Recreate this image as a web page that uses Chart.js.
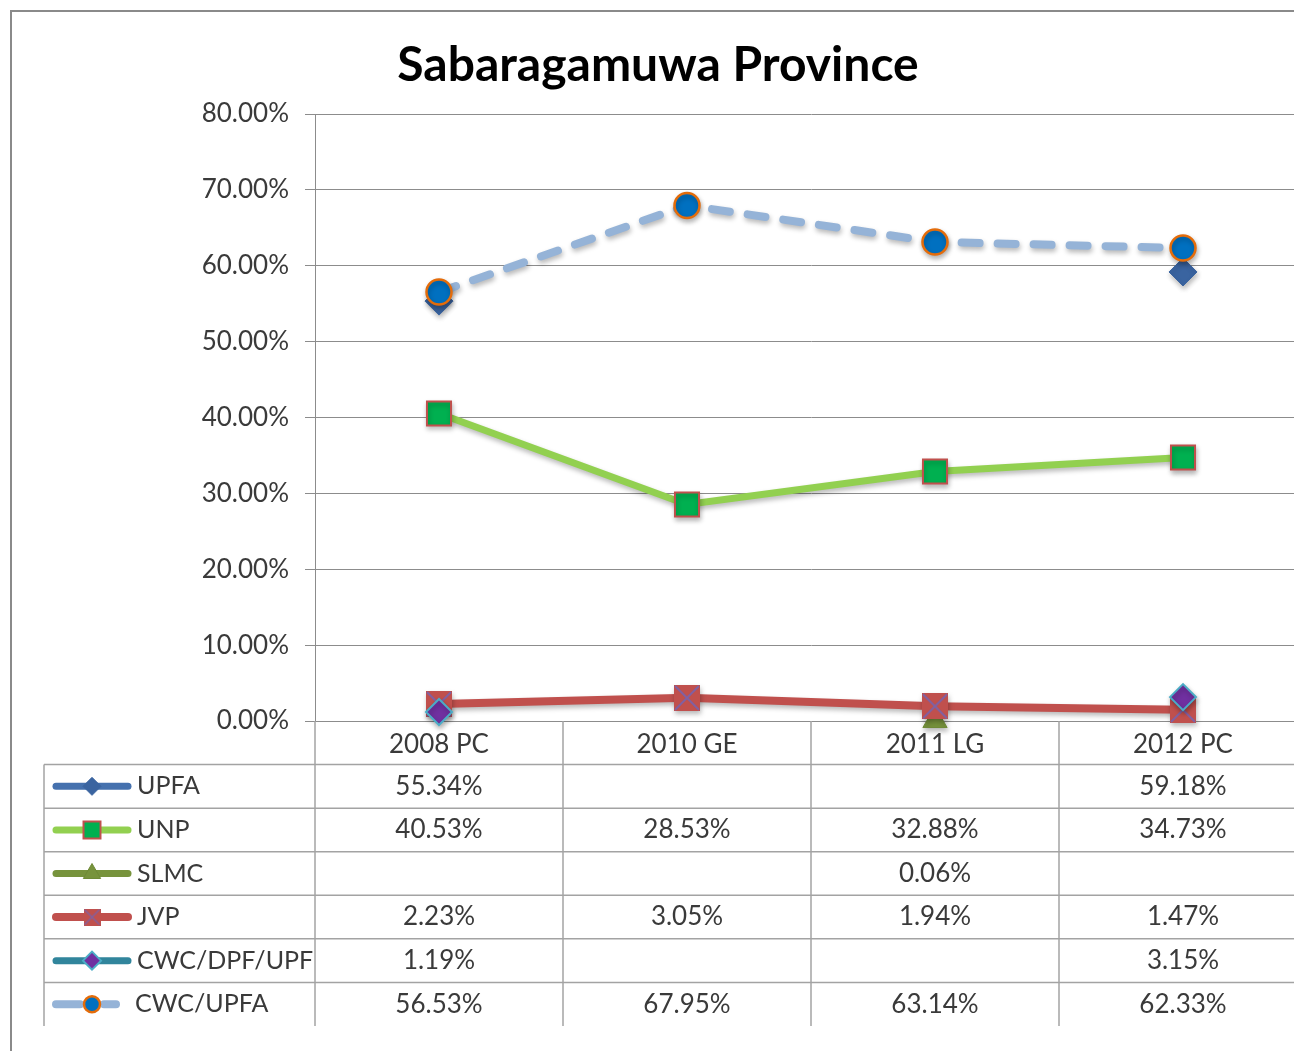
<!DOCTYPE html>
<html><head><meta charset="utf-8">
<script src="https://cdn.jsdelivr.net/npm/chart.js@4"></script>
<style>
html,body{margin:0;padding:0;background:#fff;overflow:hidden;width:1294px;height:1051px}
#wrap{position:absolute;left:0;top:0;width:1330px;height:1051px}
</style></head>
<body><div id="wrap"><canvas id="c" width="1330" height="1051"></canvas></div>
<script>
// ---- data ----
const titleText = 'Sabaragamuwa Province';
const categories = ['2008 PC', '2010 GE', '2011 LG', '2012 PC'];
const seriesNames = ['UPFA', 'UNP', 'SLMC', 'JVP', 'CWC/DPF/UPF', 'CWC/UPFA'];
const upfa      = [55.34, null, null, 59.18];
const unp       = [40.53, 28.53, 32.88, 34.73];
const slmc      = [null, null, 0.06, null];
const jvp       = [2.23, 3.05, 1.94, 1.47];
const cwcDpfUpf = [1.19, null, null, 3.15];
const cwcUpfa   = [56.53, 67.95, 63.14, 62.33];
const yMin = 0, yMax = 80, yStep = 10;

const FONT = 'Lato';
const TXT = '#3a3a3a';

function jvpMarker(s) {
  const c = document.createElement('canvas');
  c.width = s; c.height = s;
  const g = c.getContext('2d');
  g.fillStyle = '#C0504D';
  g.fillRect(0, 0, s, s);
  g.strokeStyle = '#7E62A6';
  g.lineWidth = Math.max(1.4, s / 14);
  g.beginPath();
  g.moveTo(1, 1); g.lineTo(s - 1, s - 1);
  g.moveTo(s - 1, 1); g.lineTo(1, s - 1);
  g.stroke();
  return c;
}
const jvpBig = jvpMarker(26);
const jvpSmall = jvpMarker(17);

const datasets = [
  { label: seriesNames[0], data: upfa, order: 6,
    borderColor: '#4571AE', borderWidth: 7,
    pointStyle: 'rectRot', pointRadius: 14, pointBackgroundColor: '#3A64A0', pointBorderColor: '#3A64A0', pointBorderWidth: 1,
    keyRadius: 9 },
  { label: seriesNames[1], data: unp, order: 5,
    borderColor: '#92D050', borderWidth: 7,
    pointStyle: 'rect', pointRadius: 17, pointBackgroundColor: '#00B050', pointBorderColor: '#C0504D', pointBorderWidth: 2,
    keyRadius: 12 },
  { label: seriesNames[2], data: slmc, order: 4,
    borderColor: '#77933C', borderWidth: 7,
    pointStyle: 'triangle', pointRadius: 14, pointBackgroundColor: '#77933C', pointBorderColor: '#6E8A36', pointBorderWidth: 1,
    keyRadius: 10 },
  { label: seriesNames[3], data: jvp, order: 3,
    borderColor: '#C0504D', borderWidth: 8,
    pointStyle: jvpBig, pointRadius: 13, keyStyle: jvpSmall,
    keyRadius: 9 },
  { label: seriesNames[4], data: cwcDpfUpf, order: 2,
    borderColor: '#31859C', borderWidth: 7,
    pointStyle: 'rectRot', pointRadius: 13, pointBackgroundColor: '#7030A0', pointBorderColor: '#4BACC6', pointBorderWidth: 2,
    keyRadius: 9 },
  { label: seriesNames[5], data: cwcUpfa, order: 1,
    borderColor: '#95B3D7', borderWidth: 8, borderDash: [18, 18], borderCapStyle: 'round',
    pointStyle: 'circle', pointRadius: 12.5, pointBackgroundColor: '#0070C0', pointBorderColor: '#E46C0A', pointBorderWidth: 2.5,
    keyRadius: 8, dashedKey: true },
];
datasets.forEach(d => { d.tension = 0; d.spanGaps = false; d.fill = false; d.clip = false; d.pointHoverRadius = d.pointRadius; });

const TABLE_LEFT = 44, TABLE_H = 305, KEY_X0 = 52, KEY_X1 = 132, KEY_MID = 92, LABEL_X = 137;

const shadowPlugin = {
  id: 'markerShadow',
  beforeDatasetsDraw(chart) {
    const ctx = chart.ctx;
    ctx.save();
    ctx.shadowColor = 'rgba(0,0,0,0.28)';
    ctx.shadowBlur = 5;
    ctx.shadowOffsetX = 1;
    ctx.shadowOffsetY = 3;
  },
  afterDatasetsDraw(chart) { chart.ctx.restore(); }
};

const tablePlugin = {
  id: 'dataTable',
  beforeDraw(chart) {
    const ctx = chart.ctx;
    ctx.save();
    ctx.fillStyle = '#fff';
    ctx.fillRect(0, 0, chart.width, chart.height);
    ctx.strokeStyle = '#8a8a8a';
    ctx.lineWidth = 2;
    ctx.strokeRect(11, 11, chart.width + 40, chart.height + 40);
    ctx.restore();
  },
  afterDraw(chart) {
    const ctx = chart.ctx, a = chart.chartArea, x = chart.scales.x;
    const bottom = a.bottom + TABLE_H;
    const rowH = TABLE_H / (chart.data.datasets.length + 1);
    const step = x.getPixelForValue(1) - x.getPixelForValue(0);
    const ln = (x0, y0, x1, y1) => { ctx.beginPath(); ctx.moveTo(x0, y0); ctx.lineTo(x1, y1); ctx.stroke(); };
    ctx.save();
    ctx.strokeStyle = '#a3a3a3';
    ctx.lineWidth = 1.5;
    for (let r = 1; r <= chart.data.datasets.length; r++) {
      const y = a.bottom + r * rowH;
      ln(TABLE_LEFT, y, chart.width, y);
    }
    for (let i = 0; i <= categories.length; i++) {
      const px = x.getPixelForValue(i) - step / 2;
      ln(px, a.bottom, px, bottom);
    }
    ln(TABLE_LEFT, a.bottom + rowH, TABLE_LEFT, bottom);

    ctx.textBaseline = 'middle';
    chart.data.datasets.forEach((ds, r) => {
      const cy = a.bottom + (r + 1.5) * rowH;
      ctx.save();
      ctx.strokeStyle = ds.borderColor;
      ctx.lineWidth = ds.borderWidth;
      ctx.lineCap = 'round';
      if (ds.dashedKey) {
        ln(KEY_X0 + 4, cy, KEY_MID - 12, cy);
        ln(KEY_MID + 12, cy, KEY_MID + 24, cy);
      } else {
        ln(KEY_X0 + 4, cy, KEY_X1 - 4, cy);
      }
      ctx.restore();
      ctx.save();
      ctx.fillStyle = ds.pointBackgroundColor || ds.borderColor;
      ctx.strokeStyle = ds.pointBorderColor || ds.borderColor;
      ctx.lineWidth = ds.pointBorderWidth || 1;
      Chart.helpers.drawPoint(ctx, {
        pointStyle: ds.keyStyle || ds.pointStyle, radius: ds.keyRadius, rotation: 0,
        borderWidth: ds.pointBorderWidth || 1
      }, KEY_MID, cy);
      ctx.restore();
      ctx.fillStyle = TXT;
      ctx.textAlign = 'left';
      ctx.font = '25px ' + FONT;
      ctx.fillText(ds.label, ds.dashedKey ? LABEL_X - 2 : LABEL_X, cy);
      ctx.textAlign = 'center';
      ctx.font = '26px ' + FONT;
      ds.data.forEach((v, i) => {
        if (v === null || v === undefined) return;
        ctx.fillText(v.toFixed(2) + '%', x.getPixelForValue(i), cy);
      });
    });
    ctx.restore();
  }
};

new Chart(document.getElementById('c'), {
  type: 'line',
  data: { labels: categories, datasets },
  plugins: [tablePlugin, shadowPlugin],
  options: {
    responsive: false,
    animation: false,
    events: [],
    layout: { padding: { left: 9, right: 23, top: 22, bottom: 0 } },
    plugins: {
      legend: { display: false },
      tooltip: { enabled: false },
      title: {
        display: true, text: titleText, color: '#000',
        font: { family: FONT, size: 48, weight: 'bold', lineHeight: 1.2 },
        padding: { top: 15, bottom: 19.4 }
      }
    },
    scales: {
      x: {
        type: 'category', offset: true,
        grid: { display: false },
        border: { display: false },
        ticks: { color: TXT, font: { family: FONT, size: 26 }, padding: 0, maxRotation: 0, autoSkip: false },
        afterFit(s) { s.height = 330; s.paddingLeft = 0; s.paddingRight = 0; }
      },
      y: {
        min: yMin, max: yMax,
        grid: { color: '#8c8c8c', lineWidth: 1, tickLength: 10, drawTicks: true },
        border: { display: true, color: '#8c8c8c', width: 1 },
        ticks: { stepSize: yStep, color: TXT, font: { family: FONT, size: 26 }, padding: 16,
          callback: v => v.toFixed(2) + '%' },
        afterFit(s) { s.width = 306; }
      }
    }
  }
});
</script>
</body></html>
